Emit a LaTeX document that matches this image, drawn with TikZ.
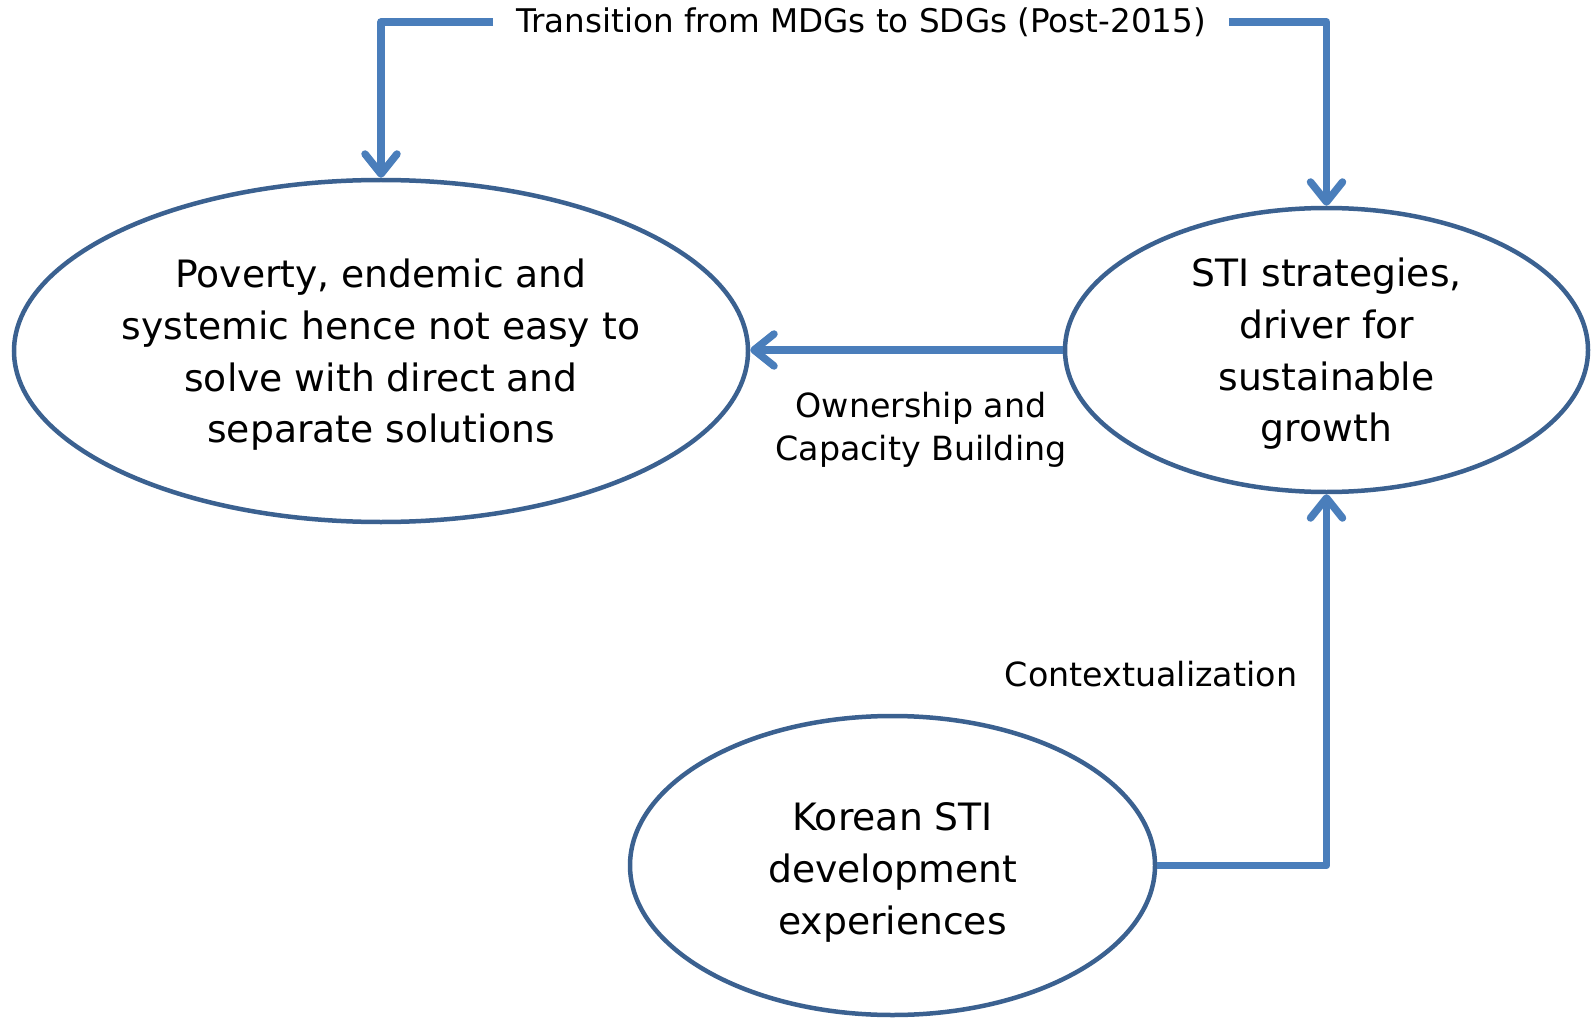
\documentclass[tikz,border=0pt]{standalone}
\usepackage{fontspec}
\usepackage{graphicx}
\setmainfont{DejaVu Sans}
\usetikzlibrary{arrows.meta,shapes.geometric}
\definecolor{linkblue}{HTML}{4A7EBB}
\definecolor{rimblue}{HTML}{3B6190}
\begin{document}
\begin{tikzpicture}[x=1pt,y=-1pt,
  bubble/.style={ellipse,draw=rimblue,line width=4.5pt,inner sep=0pt},
  bubbletext/.style={align=center,inner sep=0pt,
    font=\fontsize{37.7}{51.7}\selectfont},
  link/.style={draw=linkblue,line width=7.5pt,line join=round,
    -{Straight Barb[length=20pt,width=32pt,round]}},
  caption/.style={align=center,inner sep=0pt,outer sep=0pt,
    font=\fontsize{33.3}{43.2}\selectfont}]
\useasboundingbox (0,0) rectangle (1591,1019);

% the three ellipses
\node[bubble,minimum width=734pt,minimum height=342pt] (poverty) at (381,351) {};
\node[bubble,minimum width=523pt,minimum height=284pt] (sti) at (1326.5,350) {};
\node[bubble,minimum width=525pt,minimum height=299pt] (korea) at (892.5,865.5) {};

% their texts
\node[bubbletext] (povertytext) at ([yshift=-4pt]poverty.center)
  {Poverty, endemic and\\systemic hence not easy to\\solve with direct and\\separate solutions};
\node[bubbletext] (stitext) at ([yshift=-4pt]sti.center)
  {STI strategies,\\driver for\\sustainable\\growth};
\node[bubbletext] (koreatext) at ([yshift=-7pt]korea.center)
  {Korean STI\\development\\experiences};

% labels
\node[caption,font=\fontsize{32.6}{40}\selectfont,inner xsep=23pt] (transition) at (861,22)
  {Transition from MDGs to SDGs (Post-2015)};
\node[caption] (ownership) at (921,430) {Ownership and\\Capacity Building};
\node[caption,anchor=base] (context) at (1151,686.5) {Contextualization};

% connectors
\draw[link] (transition.west) -| (poverty.north);
\draw[link] (transition.east) -| (sti.north);
\draw[link] (sti.west) -- (sti.west -| poverty.east);
\draw[link] (korea.east) -| (sti.south);
\end{tikzpicture}
\end{document}
